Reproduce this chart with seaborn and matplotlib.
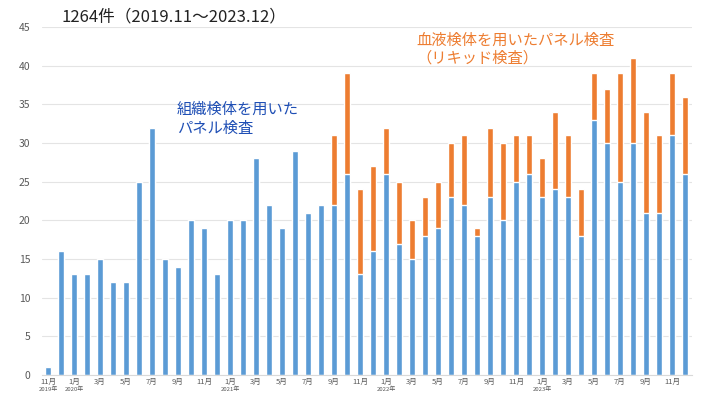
import matplotlib

matplotlib.use("Agg")
import numpy as np
import pandas as pd
import seaborn as sns
import matplotlib.pyplot as plt
from matplotlib.transforms import blended_transform_factory

# months from 2019-11 to 2023-12
months = [f"{y}-{m:02d}" for y, m in
          [(2019, 11), (2019, 12)] + [(y, m) for y in range(2020, 2024) for m in range(1, 13)]]

# tissue-based panel tests (blue)
tissue = [1, 16,
          13, 13, 15, 12, 12, 25, 32, 15, 14, 20, 19, 13,
          20, 20, 28, 22, 19, 29, 21, 22, 22, 26, 13, 16,
          26, 17, 15, 18, 19, 23, 22, 18, 23, 20, 25, 26,
          23, 24, 23, 18, 33, 30, 25, 30, 21, 21, 31, 26]

# liquid biopsy panel tests (orange)
liquid = [0, 0,
          0, 0, 0, 0, 0, 0, 0, 0, 0, 0, 0, 0,
          0, 0, 0, 0, 0, 0, 0, 0, 9, 13, 11, 11,
          6, 8, 5, 5, 6, 7, 9, 1, 9, 10, 6, 5,
          5, 10, 8, 6, 6, 7, 14, 11, 13, 10, 8, 10]

year_labels = {"2019-11": "2019年", "2020-01": "2020年", "2021-01": "2021年",
               "2022-01": "2022年", "2023-01": "2023年"}

title = "1264件（2019.11～2023.12）"
tissue_label = "組織検体を用いた\nパネル検査"
liquid_label = "血液検体を用いたパネル検査\n（リキッド検査）"

BLUE = "#5B9BD5"
ORANGE = "#ED7D31"

df = pd.DataFrame({"month": months, "tissue": tissue, "liquid": liquid})
df["total"] = df["tissue"] + df["liquid"]

sns.set_style("white")
plt.rcParams["font.family"] = ["Noto Sans CJK JP", "DejaVu Sans"]

fig = plt.figure(figsize=(7.1, 3.94), dpi=100)
ax = fig.add_axes([41.5 / 710, 19 / 394, 650 / 710, (375 - 27) / 394])

sns.barplot(data=df, x="month", y="total", color=ORANGE, width=0.4,
            saturation=1, ax=ax)
sns.barplot(data=df, x="month", y="tissue", color=BLUE, width=0.4,
            saturation=1, ax=ax)

ax.set_ylim(0, 45)
ax.set_xlim(-0.5, len(months) - 0.5)
ax.set_yticks(range(0, 46, 5))
ax.yaxis.grid(True, color="#E4E4E4", linewidth=0.8)
ax.set_axisbelow(True)
for s in ["top", "right", "left"]:
    ax.spines[s].set_visible(False)
ax.spines["bottom"].set_color("#D9D9D9")

ticks = list(range(0, len(months), 2))
ax.set_xticks(ticks)
ax.set_xticklabels([f"{int(months[i][5:])}月" for i in ticks])
ax.tick_params(axis="x", length=0, pad=2, labelsize=5.5, colors="#595959")
ax.tick_params(axis="y", length=0, pad=8, labelsize=7.5, colors="#595959")
ax.set_xlabel("")
ax.set_ylabel("")

trans = blended_transform_factory(ax.transData, fig.transFigure)
for m, lab in year_labels.items():
    ax.text(months.index(m), 2 / 394, lab, transform=trans, ha="center",
            va="bottom", fontsize=4.3, color="#595959")

fig.text(62 / 710, 1 - 17 / 394, title, ha="left", va="center", fontsize=12,
         color="#222222")
ax.text(9.9, 35.4, tissue_label, ha="left", va="top", fontsize=11,
        color="#1F4FB5", linespacing=1.1)
ax.text(28.3, 44.4, liquid_label, ha="left", va="top", fontsize=11,
        color=ORANGE, linespacing=1.05)

fig.savefig("out.png", dpi=100)
plt.close(fig)
